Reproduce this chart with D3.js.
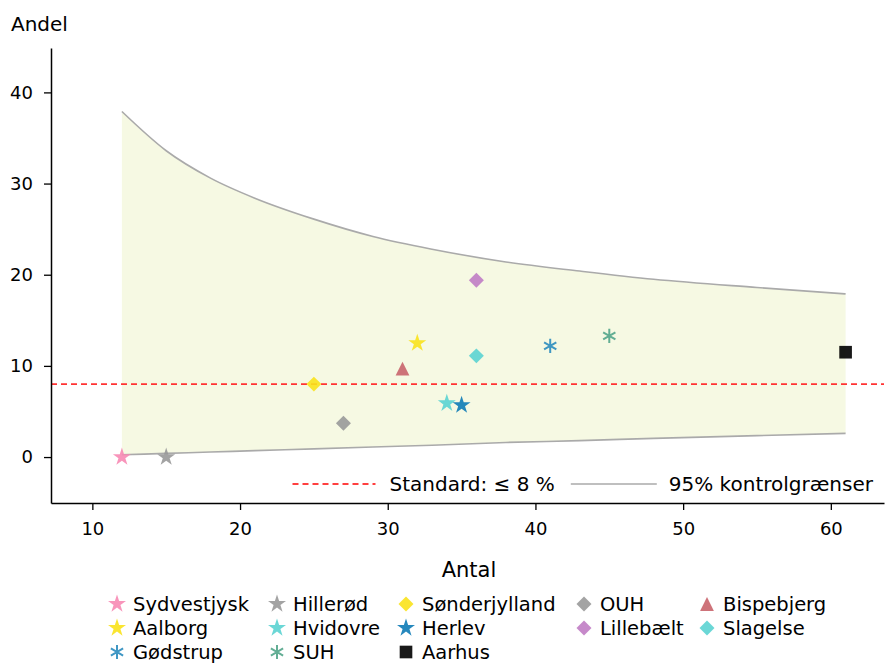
<!DOCTYPE html>
<html><head><meta charset="utf-8">
<script src="https://cdn.jsdelivr.net/npm/d3@7"></script>
<style>body{margin:0;background:#fff} text{font-family:"DejaVu Sans",sans-serif;fill:#000}</style>
</head><body><svg id="c" width="886" height="664"></svg>
<script>
// ---- data ----
const hospitals = ["Sydvestjysk","Aalborg","Gødstrup","Hillerød","Hvidovre","SUH","Sønderjylland","Herlev","Aarhus","OUH","Lillebælt","Bispebjerg","Slagelse"];
const antal = [12, 32, 41, 15, 34, 45, 25, 35, 61, 27, 36, 31, 36];
const andel = [0, 12.5, 12.2, 0, 5.9, 13.3, 8.0, 5.7, 11.5, 3.7, 19.4, 9.7, 11.1];
const markers = ["star","star","asterisk","star","star","asterisk","diamond","star","square","diamond","diamond","triangle","diamond"];
const colors = ["#f78ab4","#f9e21b","#2b8cbe","#999999","#5bd3d1","#52a58a","#f9e21b","#0e7bb6","#000000","#999999","#c07cc4","#c9646c","#5bd3d1"];
const limitN = [12, 15, 18, 21, 25, 29, 33, 38, 43, 48, 55, 61];
const upperLimit = [37.9, 33.6, 30.6, 28.4, 26.1, 24.2, 22.8, 21.4, 20.4, 19.5, 18.6, 17.9];
const lowerLimit = [0.25, 0.4, 0.55, 0.7, 0.9, 1.1, 1.3, 1.6, 1.8, 2.05, 2.35, 2.6];
const standard = 8;
const xTicks = [10, 20, 30, 40, 50, 60];
const yTicks = [0, 10, 20, 30, 40];
const legendStandard = "Standard: ≤ 8 %";
const legendLimits = "95% kontrolgrænser";
const xLabel = "Antal", yLabel = "Andel";

// ---- layout ----
const svg = d3.select("#c");
const L = 51, R = 884, T = 48, B = 503;
const x = d3.scaleLinear().domain([7.2, 63.6]).range([L, R]);
const y = d3.scaleLinear().domain([-5.04, 44.87]).range([B, T]);

// band
const band = limitN.map((n, i) => ({n, lo: lowerLimit[i], hi: upperLimit[i]}));
svg.append("path").datum(band)
  .attr("d", d3.area().x(d => x(d.n)).y0(d => y(d.lo)).y1(d => y(d.hi)).curve(d3.curveMonotoneX))
  .attr("fill", "#f6f9e3");
const lineHi = d3.line().x(d => x(d.n)).y(d => y(d.hi)).curve(d3.curveMonotoneX);
const lineLo = d3.line().x(d => x(d.n)).y(d => y(d.lo)).curve(d3.curveMonotoneX);
svg.append("path").datum(band).attr("d", lineHi).attr("fill", "none").attr("stroke", "#aaaaaa").attr("stroke-width", 1.6);
svg.append("path").datum(band).attr("d", lineLo).attr("fill", "none").attr("stroke", "#aaaaaa").attr("stroke-width", 1.6);

// standard line
svg.append("line").attr("x1", L).attr("x2", R).attr("y1", y(standard)).attr("y2", y(standard))
  .attr("stroke", "#ff3333").attr("stroke-width", 1.6).attr("stroke-dasharray", "6,4");

// symbols
const symTypes = {
  star: d3.symbolStar,
  square: d3.symbolSquare,
  diamond: {draw(c, s){ const r = Math.sqrt(s) / 2 * Math.SQRT2; c.moveTo(0,-r); c.lineTo(r,0); c.lineTo(0,r); c.lineTo(-r,0); c.closePath(); }},
  triangle: {draw(c, s){ const r = Math.sqrt(s) / 2; c.moveTo(0,-r); c.lineTo(r,r); c.lineTo(-r,r); c.closePath(); }},
  asterisk: {draw(c, s){ const r = Math.sqrt(s) / 2; for (const a of [90, 30, 150]) { const t = a * Math.PI / 180; c.moveTo(r*Math.cos(t), -r*Math.sin(t)); c.lineTo(-r*Math.cos(t), r*Math.sin(t)); } }}
};
const symSize = {star: 100, square: 160, diamond: 112, triangle: 190, asterisk: 200};
function drawMarker(g, m, col) {
  const p = g.append("path").attr("d", d3.symbol().type(symTypes[m]).size(symSize[m])()).attr("opacity", 0.9);
  if (m === "asterisk") p.attr("fill", "none").attr("stroke", col).attr("stroke-width", 2);
  else p.attr("fill", col);
}
hospitals.forEach((h, i) => {
  const g = svg.append("g").attr("transform", `translate(${x(antal[i])},${y(andel[i])})`);
  drawMarker(g, markers[i], colors[i]);
});

// axes
const ax = svg.append("g").attr("transform", `translate(0,${B})`)
  .call(d3.axisBottom(x).tickValues(xTicks).tickSize(7).tickSizeOuter(0).tickPadding(12).tickFormat(d3.format("d")));
const ay = svg.append("g").attr("transform", `translate(${L},0)`)
  .call(d3.axisLeft(y).tickValues(yTicks).tickSize(7).tickSizeOuter(0).tickPadding(11).tickFormat(d3.format("d")));
[ax, ay].forEach(a => {
  a.select(".domain").attr("stroke", "#000").attr("stroke-width", 1.5);
  a.selectAll(".tick line").attr("stroke", "#000").attr("stroke-width", 1.3);
  a.selectAll(".tick text").attr("font-size", 18).attr("font-family", "DejaVu Sans").attr("fill", "#000");
});
svg.append("text").attr("x", 469).attr("y", 577).attr("text-anchor", "middle").attr("font-size", 21).text(xLabel);
svg.append("text").attr("x", 11).attr("y", 31).attr("font-size", 20).text(yLabel);

// in-plot legend (right aligned)
const ly = 484;
const t2 = svg.append("text").attr("y", ly + 7).attr("font-size", 20).text(legendLimits);
const w2 = t2.node().getComputedTextLength();
const t2x = 873 - w2; t2.attr("x", t2x);
svg.append("line").attr("x1", t2x - 98).attr("x2", t2x - 12).attr("y1", ly).attr("y2", ly).attr("stroke", "#aaaaaa").attr("stroke-width", 1.6);
const t1 = svg.append("text").attr("y", ly + 7).attr("font-size", 20).text(legendStandard);
const w1 = t1.node().getComputedTextLength();
const t1x = t2x - 98 - 16 - w1; t1.attr("x", t1x);
svg.append("line").attr("x1", t1x - 97).attr("x2", t1x - 14).attr("y1", ly).attr("y2", ly).attr("stroke", "#ff0000").attr("stroke-width", 1.6).attr("stroke-dasharray", "6,4");

// bottom legend: 5 columns, column-major
const rowY = [604, 628, 652];
const colX = [117, 277, 406, 584, 707];
const cols = [[0,1,2],[3,4,5],[6,7,8],[9,10],[11,12]];
cols.forEach((col, ci) => {
  const cx = colX[ci];
  col.forEach((idx, r) => {
    const g = svg.append("g").attr("transform", `translate(${cx},${rowY[r]})`);
    drawMarker(g, markers[idx], colors[idx]);
    svg.append("text").attr("x", cx + 16).attr("y", rowY[r] + 7).attr("font-size", 19.5).text(hospitals[idx]);
  });
});
</script></body></html>
